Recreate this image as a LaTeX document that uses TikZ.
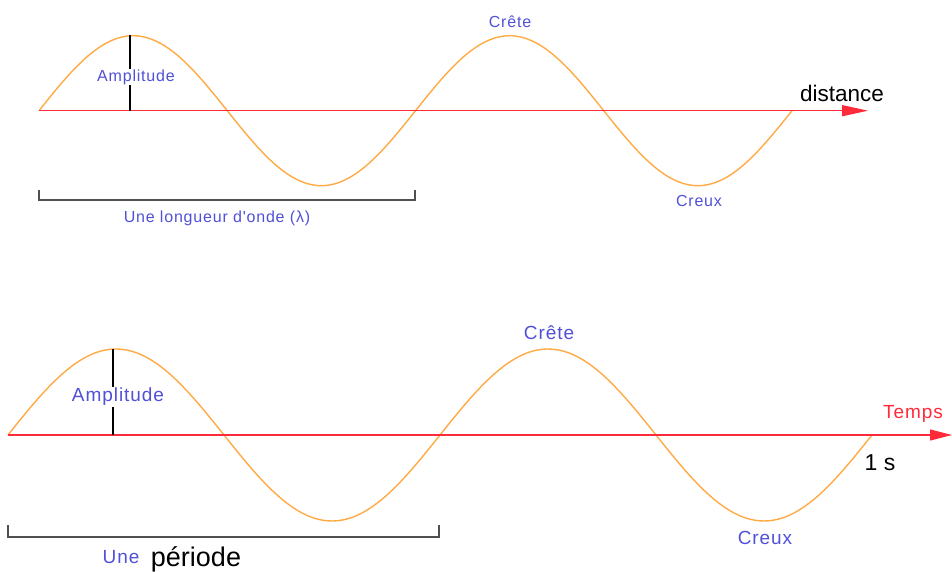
\documentclass[tikz,border=0pt]{standalone}
\usepackage{fontspec}
\setmainfont{Liberation Sans}
\newfontfamily\lblfont[LetterSpace=5]{Liberation Sans}
\usetikzlibrary{arrows.meta,positioning,calc}
\definecolor{WaveOrange}{HTML}{FFAA44}
\definecolor{AxisRed}{HTML}{FF2A3A}
\definecolor{LabelBlue}{HTML}{5050D8}
\definecolor{BracketGray}{HTML}{505050}
\tikzset{wave/.style={WaveOrange,line width=1.4pt,smooth},axis/.style={AxisRed,line width=1.3pt},ampline/.style={black,line width=1.1pt},brk/.style={BracketGray,line width=1.4pt},lbl/.style={text=LabelBlue,font=\lblfont\fontsize{16}{18}\selectfont,inner sep=1pt},lblb/.style={text=LabelBlue,font=\lblfont\fontsize{19}{21}\selectfont,inner sep=1pt},big/.style={text=black,inner sep=1pt}}

\begin{document}
\begin{tikzpicture}[x=1pt,y=-1pt]
\useasboundingbox (0,0) rectangle (952,572);
% distance
\draw[wave] plot[domain=39:792,samples=200] (\x,{110.7-75*sin((\x-39)/376.5*360)});
\coordinate (d0) at (39,110.7); \coordinate (d1) at (868,110.7);
\draw[axis,-{Triangle[length=26pt,width=11pt]}] (d0)--(d1);
\coordinate (ampT) at (130,35); \coordinate (ampB) at (130,110.7);
\draw[ampline] (ampT)--(ampB);
\node[lbl,fill=white] (amp) at (136,77) {Amplitude};
\node[lbl] (crete) at (510,22) {Crête};
\node[lbl] (creux) at (699,201) {Creux};
\node[big,font=\fontsize{22.5}{25}\selectfont] (dist) at (842,93) {distance};
\coordinate (l0) at (39,190); \coordinate (l1) at (415,190);
\draw[brk] (l0)--++(0,10)-|(l1);
\node[lbl] (lambda) at (217,218) {Une longueur d'onde (λ)};
% temps
\draw[wave] plot[domain=8:872,samples=200] (\x,{435-86*sin((\x-8)/432*360)});
\coordinate (t0) at (8,435); \coordinate (t1) at (952,435);
\draw[axis,-{Triangle[length=22pt,width=11pt]}] (t0)--(t1);
\coordinate (amp2T) at (113,349); \coordinate (amp2B) at (113,435);
\draw[ampline] (amp2T)--(amp2B);
\node[lblb,fill=white] (amp2) at (118,397) {Amplitude};
\node[lblb] (crete2) at (549,333) {Crête};
\node[lblb] (creux2) at (765,538) {Creux};
\node[lblb,text=AxisRed] (temps) at (913,414) {Temps};
\node[big,font=\fontsize{23}{26}\selectfont] (sec) at (880,463) {1 s};
\coordinate (p0) at (8,525); \coordinate (p1) at (439,525);
\draw[brk] (p0)--++(0,12)-|(p1);
\node[lblb] (une) at (121,557) {Une};
\node[big,font=\fontsize{27}{30}\selectfont,anchor=base] (periode) at (196,566) {période};
\end{tikzpicture}
\end{document}
